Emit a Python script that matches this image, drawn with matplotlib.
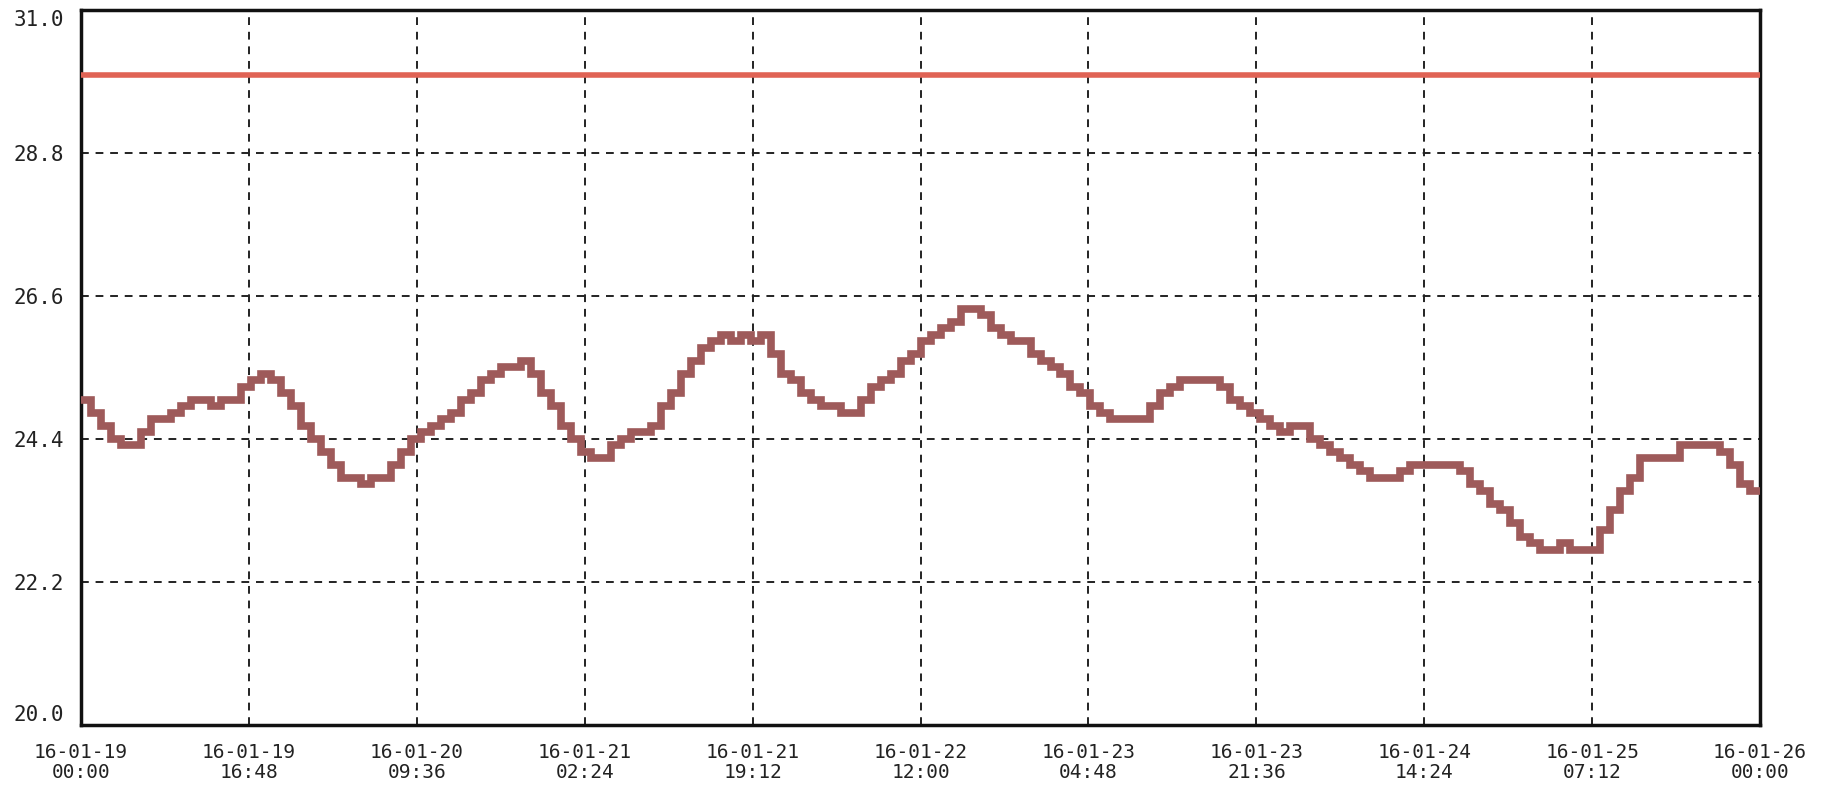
import numpy as np
import matplotlib
matplotlib.use("Agg")
import matplotlib.pyplot as plt

# hourly readings, 16-01-19 00:00 .. 16-01-26 00:00
temps = [
    25.0, 24.8, 24.6, 24.4, 24.3, 24.3, 24.5, 24.7, 24.7, 24.8,
    24.9, 25.0, 25.0, 24.9, 25.0, 25.0, 25.2, 25.3, 25.4, 25.3,
    25.1, 24.9, 24.6, 24.4, 24.2, 24.0, 23.8, 23.8, 23.7, 23.8,
    23.8, 24.0, 24.2, 24.4, 24.5, 24.6, 24.7, 24.8, 25.0, 25.1,
    25.3, 25.4, 25.5, 25.5, 25.6, 25.4, 25.1, 24.9, 24.6, 24.4,
    24.2, 24.1, 24.1, 24.3, 24.4, 24.5, 24.5, 24.6, 24.9, 25.1,
    25.4, 25.6, 25.8, 25.9, 26.0, 25.9, 26.0, 25.9, 26.0, 25.7,
    25.4, 25.3, 25.1, 25.0, 24.9, 24.9, 24.8, 24.8, 25.0, 25.2,
    25.3, 25.4, 25.6, 25.7, 25.9, 26.0, 26.1, 26.2, 26.4, 26.4,
    26.3, 26.1, 26.0, 25.9, 25.9, 25.7, 25.6, 25.5, 25.4, 25.2,
    25.1, 24.9, 24.8, 24.7, 24.7, 24.7, 24.7, 24.9, 25.1, 25.2,
    25.3, 25.3, 25.3, 25.3, 25.2, 25.0, 24.9, 24.8, 24.7, 24.6,
    24.5, 24.6, 24.6, 24.4, 24.3, 24.2, 24.1, 24.0, 23.9, 23.8,
    23.8, 23.8, 23.9, 24.0, 24.0, 24.0, 24.0, 24.0, 23.9, 23.7,
    23.6, 23.4, 23.3, 23.1, 22.9, 22.8, 22.7, 22.7, 22.8, 22.7,
    22.7, 22.7, 23.0, 23.3, 23.6, 23.8, 24.1, 24.1, 24.1, 24.1,
    24.3, 24.3, 24.3, 24.3, 24.2, 24.0, 23.7, 23.6, 23.6,
]
hours = np.arange(len(temps))

limit = 30.0

yticks = [20.0, 22.2, 24.4, 26.6, 28.8, 31.0]
xtick_hours = [0, 16.8, 33.6, 50.4, 67.2, 84, 100.8, 117.6, 134.4, 151.2, 168]
xtick_labels = ['16-01-19\n00:00', '16-01-19\n16:48', '16-01-20\n09:36',
                '16-01-21\n02:24', '16-01-21\n19:12', '16-01-22\n12:00',
                '16-01-23\n04:48', '16-01-23\n21:36', '16-01-24\n14:24',
                '16-01-25\n07:12', '16-01-26\n00:00']

fig = plt.figure(figsize=(18.34, 7.86), dpi=100)
ax = fig.add_axes([0.0442, 0.0776, 0.9155, 0.9097])

ax.axhline(limit, color='#e06355', lw=4.0, zorder=3)
ax.plot(hours, temps, drawstyle='steps-post', color='#9e5a5a', lw=5.5,
        solid_joinstyle='miter', zorder=4)

ax.set_xlim(0, 168)
ax.set_ylim(20.0, 31.0)
ax.set_xticks(xtick_hours)
ax.set_xticklabels(xtick_labels, family='DejaVu Sans Mono', fontsize=14,
                   linespacing=1.05, color='#222222')
ax.set_yticks(yticks)
ax.set_yticklabels(['%.1f' % v for v in yticks], family='DejaVu Sans Mono',
                   fontsize=15, color='#222222')
labs = ax.get_yticklabels()
labs[0].set_va('bottom')
labs[-1].set_va('top')
ax.tick_params(length=0, pad=12)
ax.tick_params(axis='x', pad=13)

ax.grid(True, color='#222222', lw=1.4, linestyle=(0, (4, 3.5)))
for s in ax.spines.values():
    s.set_linewidth(2.5)
    s.set_color('#111111')

fig.savefig('out.png', dpi=100)
